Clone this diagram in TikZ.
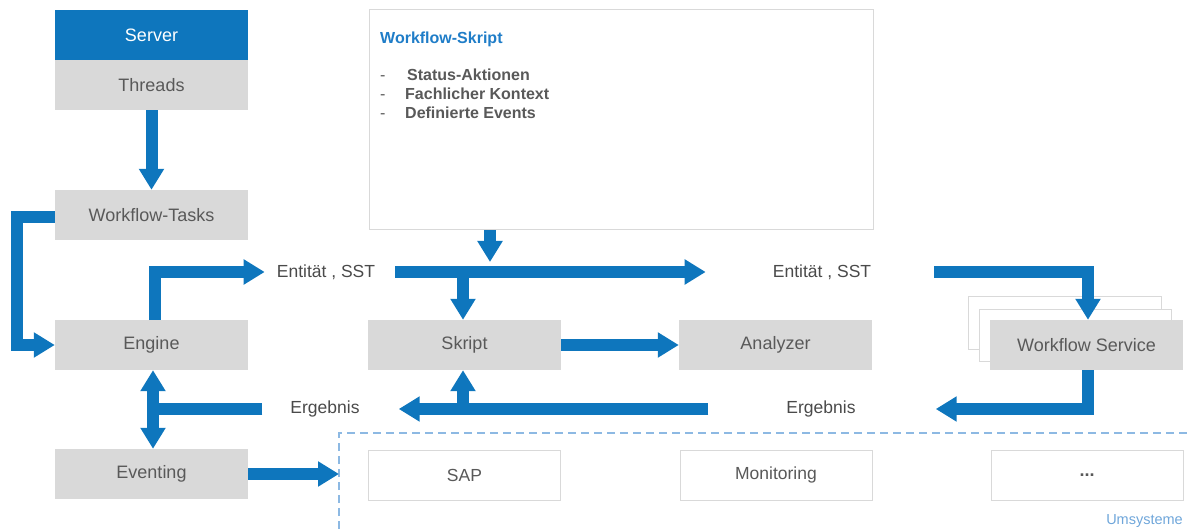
\documentclass[tikz,border=0pt]{standalone}
\usepackage{fontspec}
\setmainfont{Liberation Sans}
\usetikzlibrary{arrows.meta}
\definecolor{wfblue}{HTML}{0E76BD}
\definecolor{boxgray}{HTML}{D9D9D9}
\definecolor{txtgray}{HTML}{595959}
\definecolor{lblgray}{HTML}{4A4A4A}
\definecolor{titleblue}{HTML}{1F7DC8}
\definecolor{dashblue}{HTML}{8DB9E3}
\definecolor{umblue}{HTML}{6FA6DA}
\tikzset{
  stdfont/.style={font=\fontsize{17.5}{21}\selectfont},
  graybox/.style={font=\fontsize{18}{21}\selectfont, fill=boxgray, text=txtgray, minimum width=193pt, minimum height=50pt, inner sep=0pt},
  whitebox/.style={stdfont, fill=white, draw=boxgray, line width=1pt, text=txtgray, minimum width=192pt, minimum height=50pt, inner sep=0pt},
  flowlabel/.style={stdfont, text=lblgray, inner sep=0pt},
  flow/.style={draw=wfblue, line width=12pt, line join=miter, line cap=butt, -{Triangle[width=24pt,length=21pt]}},
  flowline/.style={draw=wfblue, line width=12pt, line join=miter, line cap=butt},
  twoway/.style={draw=wfblue, line width=12pt, line cap=butt, {Triangle[width=24pt,length=21pt]}-{Triangle[width=24pt,length=21pt]}},
  itemtext/.style={font=\bfseries\fontsize{16}{19}\selectfont, text=txtgray, inner sep=0pt, anchor=west, text height=12pt, text depth=3pt},
  itemdash/.style={font=\fontsize{16}{19}\selectfont, text=txtgray, inner sep=0pt, anchor=west, text height=12pt, text depth=3pt},
}
\begin{document}
\begin{tikzpicture}[x=1pt, y=-1pt]
\useasboundingbox (0,0) rectangle (1187,529);

% server column
\node[graybox, fill=wfblue, text=white] (server) at (151.5,35) {Server};
\node[graybox] (threads) at (151.5,85) {Threads};
\node[graybox] (tasks) at (151.5,215) {Workflow-Tasks};
\node[graybox] (engine) at (151.5,345) {Engine};
\node[graybox] (eventing) at (151.5,474) {Eventing};

% workflow script description
\node[draw=boxgray, line width=1pt, fill=white, minimum width=504pt, minimum height=220pt, inner sep=0pt] (wfs) at (621,120) {};
\node[font=\bfseries\fontsize{16}{19}\selectfont, text=titleblue, inner sep=0pt, anchor=west] (wfstitle) at (380,39) {Workflow-Skript};
\node[itemdash] (d1) at (380,76) {-};
\node[itemdash] (d2) at (380,95) {-};
\node[itemdash] (d3) at (380,114) {-};
\node[itemtext] (i1) at (407,76) {Status-Aktionen};
\node[itemtext] (i2) at (405,95) {Fachlicher Kontext};
\node[itemtext] (i3) at (405,114) {Definierte Events};

% processing row
\node[graybox] (skript) at (464.5,345) {Skript};
\node[graybox] (analyzer) at (775.5,345) {Analyzer};
\node[whitebox, minimum width=193pt, minimum height=53pt] (ws2) at (1064.5,323.5) {};
\node[whitebox, minimum width=192pt, minimum height=52pt] (ws1) at (1075,336) {};
\node[graybox] (ws) at (1086.5,345) {Workflow Service};

% flow labels
\node[flowlabel] (ent1) at (326,272) {Entität , SST};
\node[flowlabel] (ent2) at (822,272) {Entität , SST};
\node[flowlabel] (erg1) at (325,409) {Ergebnis};
\node[flowlabel] (erg2) at (821,409) {Ergebnis};

% external systems
\node[whitebox] (sap) at (464.5,475) {SAP};
\node[whitebox] (mon) at (776,475) {Monitoring};
\node[whitebox, font=\bfseries\fontsize{18}{21}\selectfont] (more) at (1087,475) {...};
\node[font=\fontsize{14.5}{17}\selectfont, text=umblue, inner sep=0pt, anchor=east] (umsys) at (1183,521) {Umsysteme};
\draw[dashblue, line width=2.2pt, dash pattern=on 8pt off 5pt] (339,529) -- (339,433) -- (1187,433);
\coordinate (umsin) at (339,474);

% connector junctions
\coordinate (wtl) at (17,217);
\coordinate (ent1in) at ([xshift=-12pt]ent1.west);
\coordinate (ent1out) at ([xshift=20pt]ent1.east);
\coordinate (ent2in) at ([xshift=-67pt]ent2.west);
\coordinate (ent2out) at ([xshift=63pt]ent2.east);
\coordinate (wfsdown) at (490,262);
\coordinate (split) at (463,272);
\coordinate (erg2out) at ([xshift=80pt]erg2.east);
\coordinate (erg2in) at ([xshift=-78pt]erg2.west);
\coordinate (erg1in) at ([xshift=39pt]erg1.east);
\coordinate (erg1out) at ([xshift=-28pt]erg1.west);
\coordinate (merge) at (463,409);
\coordinate (evmid) at (153,409);

% connectors
\draw[flow] (threads.south) -- (tasks.north);
\draw[flow] (tasks.west |- wtl) -- (wtl) |- (engine.west);
\draw[flow] (engine.north -| 155,0) |- (ent1in);
\draw[flow] (ent1out) -- (ent2in);
\draw[flow] (wfs.south -| wfsdown) -- (wfsdown);
\draw[flow] (split) -- (skript.north -| split);
\draw[flow] (skript.east) -- (analyzer.west);
\draw[flow] (ent2out) -| (ws.north -| 1088,0);
\draw[flow] (ws.south -| 1088,0) |- (erg2out);
\draw[flow] (erg2in) -- (erg1in);
\draw[flow] (merge) -- (skript.south -| merge);
\draw[flowline] (erg1out) -- ([xshift=-6pt]evmid);
\draw[twoway] (engine.south -| evmid) -- (eventing.north -| evmid);
\draw[flow] (eventing.east) -- (umsin);
\end{tikzpicture}
\end{document}
